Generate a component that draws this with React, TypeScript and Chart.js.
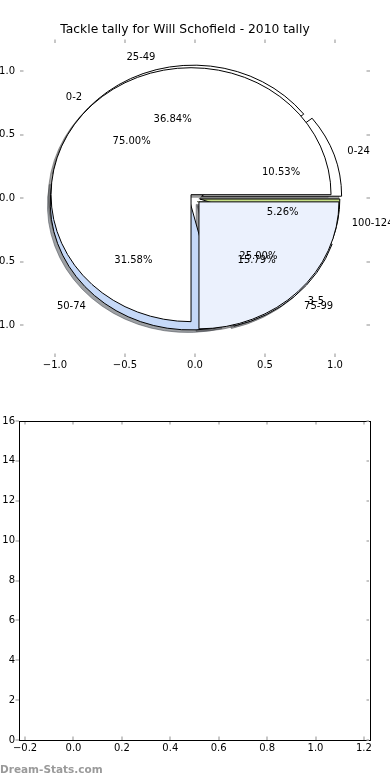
import React, { useEffect, useRef } from 'react';
import { Chart, registerables } from 'chart.js';

Chart.register(...registerables);

const titleText = 'Tackle tally for Will Schofield - 2010 tally';
const tackleLabels = ['0-24', '25-49', '50-74', '75-99', '100-124'];
const tackleGames = [2, 7, 6, 3, 1];
const tackleColors = ['#ffffff', '#ffffff', '#c6d9f8', '#eaf1fd', '#c6df84'];
const tackleExplode = [0.05, 0.05, 0.05, 0.05, 0.035];
const innerLabels = ['0-2', '3-5'];
const innerGames = [3, 1];
const innerColors = ['#ffffff', '#ebf1fd'];
const innerExplode = [0.04, 0.04];
const pieTicks = [-1, -0.5, 0, 0.5, 1];
const barXTicks = [-0.2, 0, 0.2, 0.4, 0.6, 0.8, 1.0, 1.2];
const barYTicks = [0, 2, 4, 6, 8, 10, 12, 14, 16];
const watermark = 'Dream-Stats.com';

const FONT = '"DejaVu Sans", Verdana, sans-serif';
const TICK_COLOR = '#b5b5b5';
const fmt1 = (v: number) => (Math.abs(v) < 1e-9 ? 0 : v).toFixed(1).replace('-', '\u2212');

type Wedge = { t1: number; t2: number; mid: number; cx: number; cy: number; color: string; label: string; pct: string };

function buildPie(labels: string[], values: number[], colors: string[], explode: number[]): Wedge[] {
  const total = values.reduce((a, b) => a + b, 0);
  let start = 0;
  return values.map((v, i) => {
    const t1 = start;
    const t2 = start + (v / total) * 2 * Math.PI;
    start = t2;
    const mid = (t1 + t2) / 2;
    return {
      t1, t2, mid,
      cx: explode[i] * Math.cos(mid),
      cy: explode[i] * Math.sin(mid),
      color: colors[i],
      label: labels[i],
      pct: ((v / total) * 100).toFixed(2) + '%',
    };
  });
}

function shade(hex: string) {
  const n = parseInt(hex.slice(1), 16);
  const r = Math.round(((n >> 16) & 255) * 0.3);
  const g = Math.round(((n >> 8) & 255) * 0.3);
  const b = Math.round((n & 255) * 0.3);
  return `rgba(${r},${g},${b},0.5)`;
}

const piePlugin = {
  id: 'pies',
  afterDatasetsDraw(chart: any) {
    const { ctx } = chart;
    const xs = chart.scales.x;
    const ys = chart.scales.y;
    const X = (v: number) => xs.getPixelForValue(v);
    const Y = (v: number) => ys.getPixelForValue(v);
    const rx = X(1) - X(0);
    const ry = Y(0) - Y(1);
    const pies = [
      buildPie(tackleLabels, tackleGames, tackleColors, tackleExplode),
      buildPie(innerLabels, innerGames, innerColors, innerExplode),
    ];
    const path = (w: Wedge, dx: number, dy: number) => {
      const ox = X(w.cx + dx);
      const oy = Y(w.cy + dy);
      ctx.beginPath();
      ctx.moveTo(ox, oy);
      ctx.ellipse(ox, oy, rx, ry, 0, -w.t1, -w.t2, true);
      ctx.closePath();
    };
    ctx.save();
    ctx.lineWidth = 1;
    ctx.lineJoin = 'miter';
    for (const pie of pies) {
      for (const w of pie) {
        const c = shade(w.color);
        path(w, -0.02, -0.02);
        ctx.fillStyle = c;
        ctx.fill();
        ctx.strokeStyle = c;
        ctx.stroke();
      }
    }
    for (const pie of pies) {
      for (const w of pie) {
        path(w, 0, 0);
        ctx.fillStyle = w.color;
        ctx.fill();
        ctx.strokeStyle = '#000';
        ctx.stroke();
      }
    }
    ctx.font = `10px ${FONT}`;
    ctx.fillStyle = '#000';
    ctx.textBaseline = 'middle';
    const dy = 1;
    for (const pie of pies) {
      for (const w of pie) {
        const lx = w.cx + 1.1 * Math.cos(w.mid);
        const ly = w.cy + 1.1 * Math.sin(w.mid);
        ctx.textAlign = lx > 0 ? 'left' : 'right';
        ctx.fillText(w.label, X(lx), Y(ly) + dy);
        ctx.textAlign = 'center';
        ctx.fillText(w.pct, X(w.cx + 0.6 * Math.cos(w.mid)), Y(w.cy + 0.6 * Math.sin(w.mid)) + dy);
      }
    }
    ctx.restore();
  },
};

const line = (ctx: any, x1: number, y1: number, x2: number, y2: number) => {
  ctx.beginPath();
  ctx.moveTo(x1, y1);
  ctx.lineTo(x2, y2);
  ctx.stroke();
};

const makeTickPlugin = (leftOutside: boolean, frame: boolean) => ({
  id: 'tickMarks',
  afterDraw(chart: any) {
    const { ctx, chartArea: a } = chart;
    const xs = chart.scales.x;
    const ys = chart.scales.y;
    ctx.save();
    if (frame) {
      ctx.strokeStyle = '#000';
      ctx.lineWidth = 1;
      const l = Math.floor(a.left) + 0.5;
      const t = Math.floor(a.top) + 0.5;
      const r = Math.floor(a.right) + 0.5;
      const b = Math.floor(a.bottom) + 0.5;
      ctx.strokeRect(l, t, r - l, b - t);
    }
    ctx.strokeStyle = TICK_COLOR;
    ctx.lineWidth = 1.5;
    const L = 3.5;
    for (const tk of xs.ticks) {
      const p = Math.round(xs.getPixelForValue(tk.value));
      line(ctx, p, a.top + (frame ? 1 : 0), p, a.top + L);
      line(ctx, p, a.bottom - L, p, a.bottom);
    }
    for (const tk of ys.ticks) {
      const p = Math.round(ys.getPixelForValue(tk.value));
      if (leftOutside) line(ctx, a.left - L, p, a.left, p);
      else line(ctx, a.left, p, a.left + L, p);
      line(ctx, a.right - L, p, a.right - (frame ? 1 : 0), p);
    }
    ctx.restore();
  },
});

export default function App() {
  const topRef = useRef<HTMLCanvasElement>(null);
  const botRef = useRef<HTMLCanvasElement>(null);

  useEffect(() => {
    const tickFont = { family: FONT, size: 10 };
    const top = new Chart(topRef.current as HTMLCanvasElement, {
      type: 'scatter',
      data: { datasets: [{ label: 'tackles', data: [] }] },
      options: {
        animation: false,
        responsive: true,
        maintainAspectRatio: false,
        layout: { padding: { left: 0, right: 20, top: 0, bottom: 0 } },
        plugins: {
          legend: { display: false },
          tooltip: { enabled: false },
          title: {
            display: true,
            text: titleText,
            color: '#000',
            font: { family: FONT, size: 12.3, weight: 'normal' },
            padding: { top: 22.8, bottom: 2 },
          },
        },
        scales: {
          x: {
            type: 'linear',
            min: -1.25,
            max: 1.25,
            grid: { display: false, drawTicks: false },
            border: { display: false },
            afterBuildTicks: (s: any) => { s.ticks = pieTicks.map((v) => ({ value: v })); },
            afterFit: (s: any) => { s.height = 33; },
            ticks: { callback: (v: any) => fmt1(Number(v)), font: tickFont, color: '#000', padding: 2.5, maxRotation: 0, autoSkip: false },
          },
          y: {
            type: 'linear',
            min: -1.25,
            max: 1.25,
            grid: { display: false, drawTicks: false },
            border: { display: false },
            afterBuildTicks: (s: any) => { s.ticks = pieTicks.map((v) => ({ value: v })); },
            afterFit: (s: any) => { s.width = 20; },
            ticks: { callback: (v: any) => fmt1(Number(v)), font: tickFont, color: '#000', padding: 5, autoSkip: false },
          },
        },
      } as any,
      plugins: [piePlugin, makeTickPlugin(false, false)],
    });

    const bot = new Chart(botRef.current as HTMLCanvasElement, {
      type: 'scatter',
      data: { datasets: [{ label: 'games', data: [] }] },
      options: {
        animation: false,
        responsive: true,
        maintainAspectRatio: false,
        layout: { padding: { left: 0, right: 20, top: 31, bottom: 0 } },
        plugins: { legend: { display: false }, tooltip: { enabled: false } },
        scales: {
          x: {
            type: 'linear',
            min: -0.225,
            max: 1.225,
            grid: { display: false, drawTicks: false },
            border: { display: false },
            afterBuildTicks: (s: any) => { s.ticks = barXTicks.map((v) => ({ value: v })); },
            afterFit: (s: any) => { s.height = 40; },
            ticks: { callback: (v: any) => fmt1(Number(v)), font: tickFont, color: '#000', padding: 2, maxRotation: 0, autoSkip: false },
          },
          y: {
            type: 'linear',
            min: 0,
            max: 16,
            grid: { display: false, drawTicks: false },
            border: { display: false },
            afterBuildTicks: (s: any) => { s.ticks = barYTicks.map((v) => ({ value: v })); },
            afterFit: (s: any) => { s.width = 19; },
            ticks: { callback: (v: any) => String(v), font: tickFont, color: '#000', padding: 4, autoSkip: false },
          },
        },
      } as any,
      plugins: [makeTickPlugin(true, true)],
    });

    return () => {
      top.destroy();
      bot.destroy();
    };
  }, []);

  return (
    <div style={{ position: 'absolute', left: 0, top: 0, width: 390, height: 780, background: '#fff', overflow: 'hidden' }}>
      <div style={{ position: 'absolute', left: 0, top: 0, width: 390, height: 390 }}>
        <canvas ref={topRef} />
      </div>
      <div style={{ position: 'absolute', left: 0, top: 390, width: 390, height: 390 }}>
        <canvas ref={botRef} />
      </div>
      <div
        style={{
          position: 'absolute',
          left: 0,
          top: 763,
          font: `bold 10.5px ${FONT}`,
          lineHeight: '13px',
          color: '#9a9a9a',
          whiteSpace: 'nowrap',
        }}
      >
        {watermark}
      </div>
    </div>
  );
}
